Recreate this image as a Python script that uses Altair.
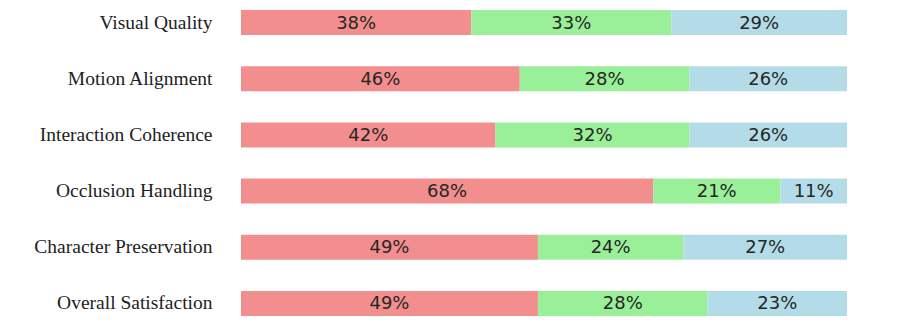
import altair as alt
import pandas as pd

categories = ["Visual Quality", "Motion Alignment", "Interaction Coherence",
              "Occlusion Handling", "Character Preservation", "Overall Satisfaction"]
series = ["A", "B", "C"]
series_a = [38, 46, 42, 68, 49, 49]
series_b = [33, 28, 32, 21, 24, 28]
series_c = [29, 26, 26, 11, 27, 23]
colors = ["#F28E8E", "#99F099", "#B3DCE8"]

rows = []
for i, cat in enumerate(categories):
    for k, (s, vals) in enumerate(zip(series, [series_a, series_b, series_c])):
        rows.append({"category": cat, "series": s, "order": k, "value": vals[i]})
df = pd.DataFrame(rows)

base = alt.Chart(df).transform_stack(
    stack="value", groupby=["category"], as_=["x0", "x1"],
    sort=[alt.SortField("order", order="ascending")]
).transform_calculate(
    mid="(datum.x0 + datum.x1) / 2",
    label="datum.value + '%'"
)

y = alt.Y("category:N", sort=categories, title=None,
          scale=alt.Scale(paddingInner=0.555, paddingOuter=0.036),
          axis=alt.Axis(domain=False, ticks=False, grid=False, labelFont="Liberation Serif",
                        labelFontSize=19.5, labelColor="#222", labelPadding=29,
                        labelLimit=400))

bars = base.mark_bar().encode(
    x=alt.X("x0:Q", scale=alt.Scale(domain=[0, 100], nice=False), axis=None),
    x2="x1:Q",
    y=y,
    color=alt.Color("series:N", scale=alt.Scale(domain=series, range=colors), legend=None),
)

texts = base.mark_text(font="DejaVu Sans", fontSize=18, color="#262626",
                       baseline="middle", align="center", dy=1).encode(
    x=alt.X("mid:Q", scale=alt.Scale(domain=[0, 100], nice=False), axis=None),
    y=alt.Y("category:N", sort=categories),
    text="label:N",
)

chart = (bars + texts).properties(
    width=606, height=310,
    autosize=alt.AutoSizeParams(type="none"),
    padding={"left": 233, "top": 0, "right": 42, "bottom": 5},
).configure(background="white").configure_view(stroke=None, strokeWidth=0)

chart.save("out.html", embed_options={"renderer": "svg", "actions": False})
